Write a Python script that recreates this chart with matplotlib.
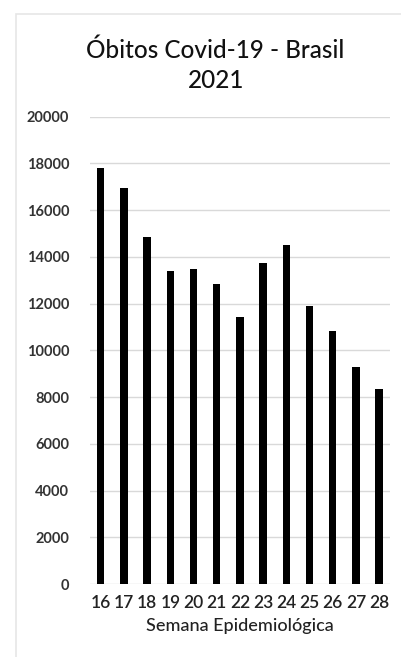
import matplotlib

matplotlib.use('Agg')
import matplotlib.pyplot as plt
from matplotlib.patches import Rectangle

plt.rcParams['font.family'] = ['Lato', 'DejaVu Sans']

# dados
semanas = [16, 17, 18, 19, 20, 21, 22, 23, 24, 25, 26, 27, 28]
obitos = [17800, 16930, 14860, 13380, 13460, 12840, 11440, 13720, 14500, 11900, 10840, 9280, 8340]
yticks = list(range(0, 20001, 2000))

fig = plt.figure(figsize=(4.01, 6.57), dpi=100)
ax = fig.add_axes([0.2244, 0.1111, 0.7482, 0.7113])

# moldura cinza do gráfico (recortada)
fig.patches.append(Rectangle((16 / 401, -0.05), 1.1, 1 - 14 / 657 + 0.05, transform=fig.transFigure,
                             fill=False, edgecolor='#e6e6e6', linewidth=1.2))

ax.bar(semanas, obitos, width=0.32, color='black', zorder=3)
ax.set_xlim(15.54, 28.47)
ax.set_ylim(0, 20000)
ax.set_yticks(yticks)
ax.set_xticks(semanas)
ax.grid(axis='y', color='#d9d9d9', linewidth=1, zorder=0)
for s in ax.spines.values():
    s.set_visible(False)
ax.tick_params(length=0)
ax.tick_params(axis='y', pad=15, labelsize=10.5, labelcolor='#333333')
ax.tick_params(axis='x', pad=8, labelsize=12.5, labelcolor='#222222')
for t in ax.get_yticklabels():
    t.set_fontweight('bold')
for t in ax.get_xticklabels():
    t.set_fontweight('semibold')
ax.set_xlabel('Semana Epidemiológica', fontsize=13, color='#222222', labelpad=5, fontweight='medium')

fig.text(215 / 401, 1 - 50 / 657, 'Óbitos Covid-19 - Brasil', ha='center', va='center', fontsize=17.5,
         color='#111111', fontweight='medium')
fig.text(216 / 401, 1 - 80 / 657, '2021', ha='center', va='center', fontsize=17.5, color='#111111',
         fontweight='medium')

fig.savefig('out.png', dpi=100, facecolor='white')
